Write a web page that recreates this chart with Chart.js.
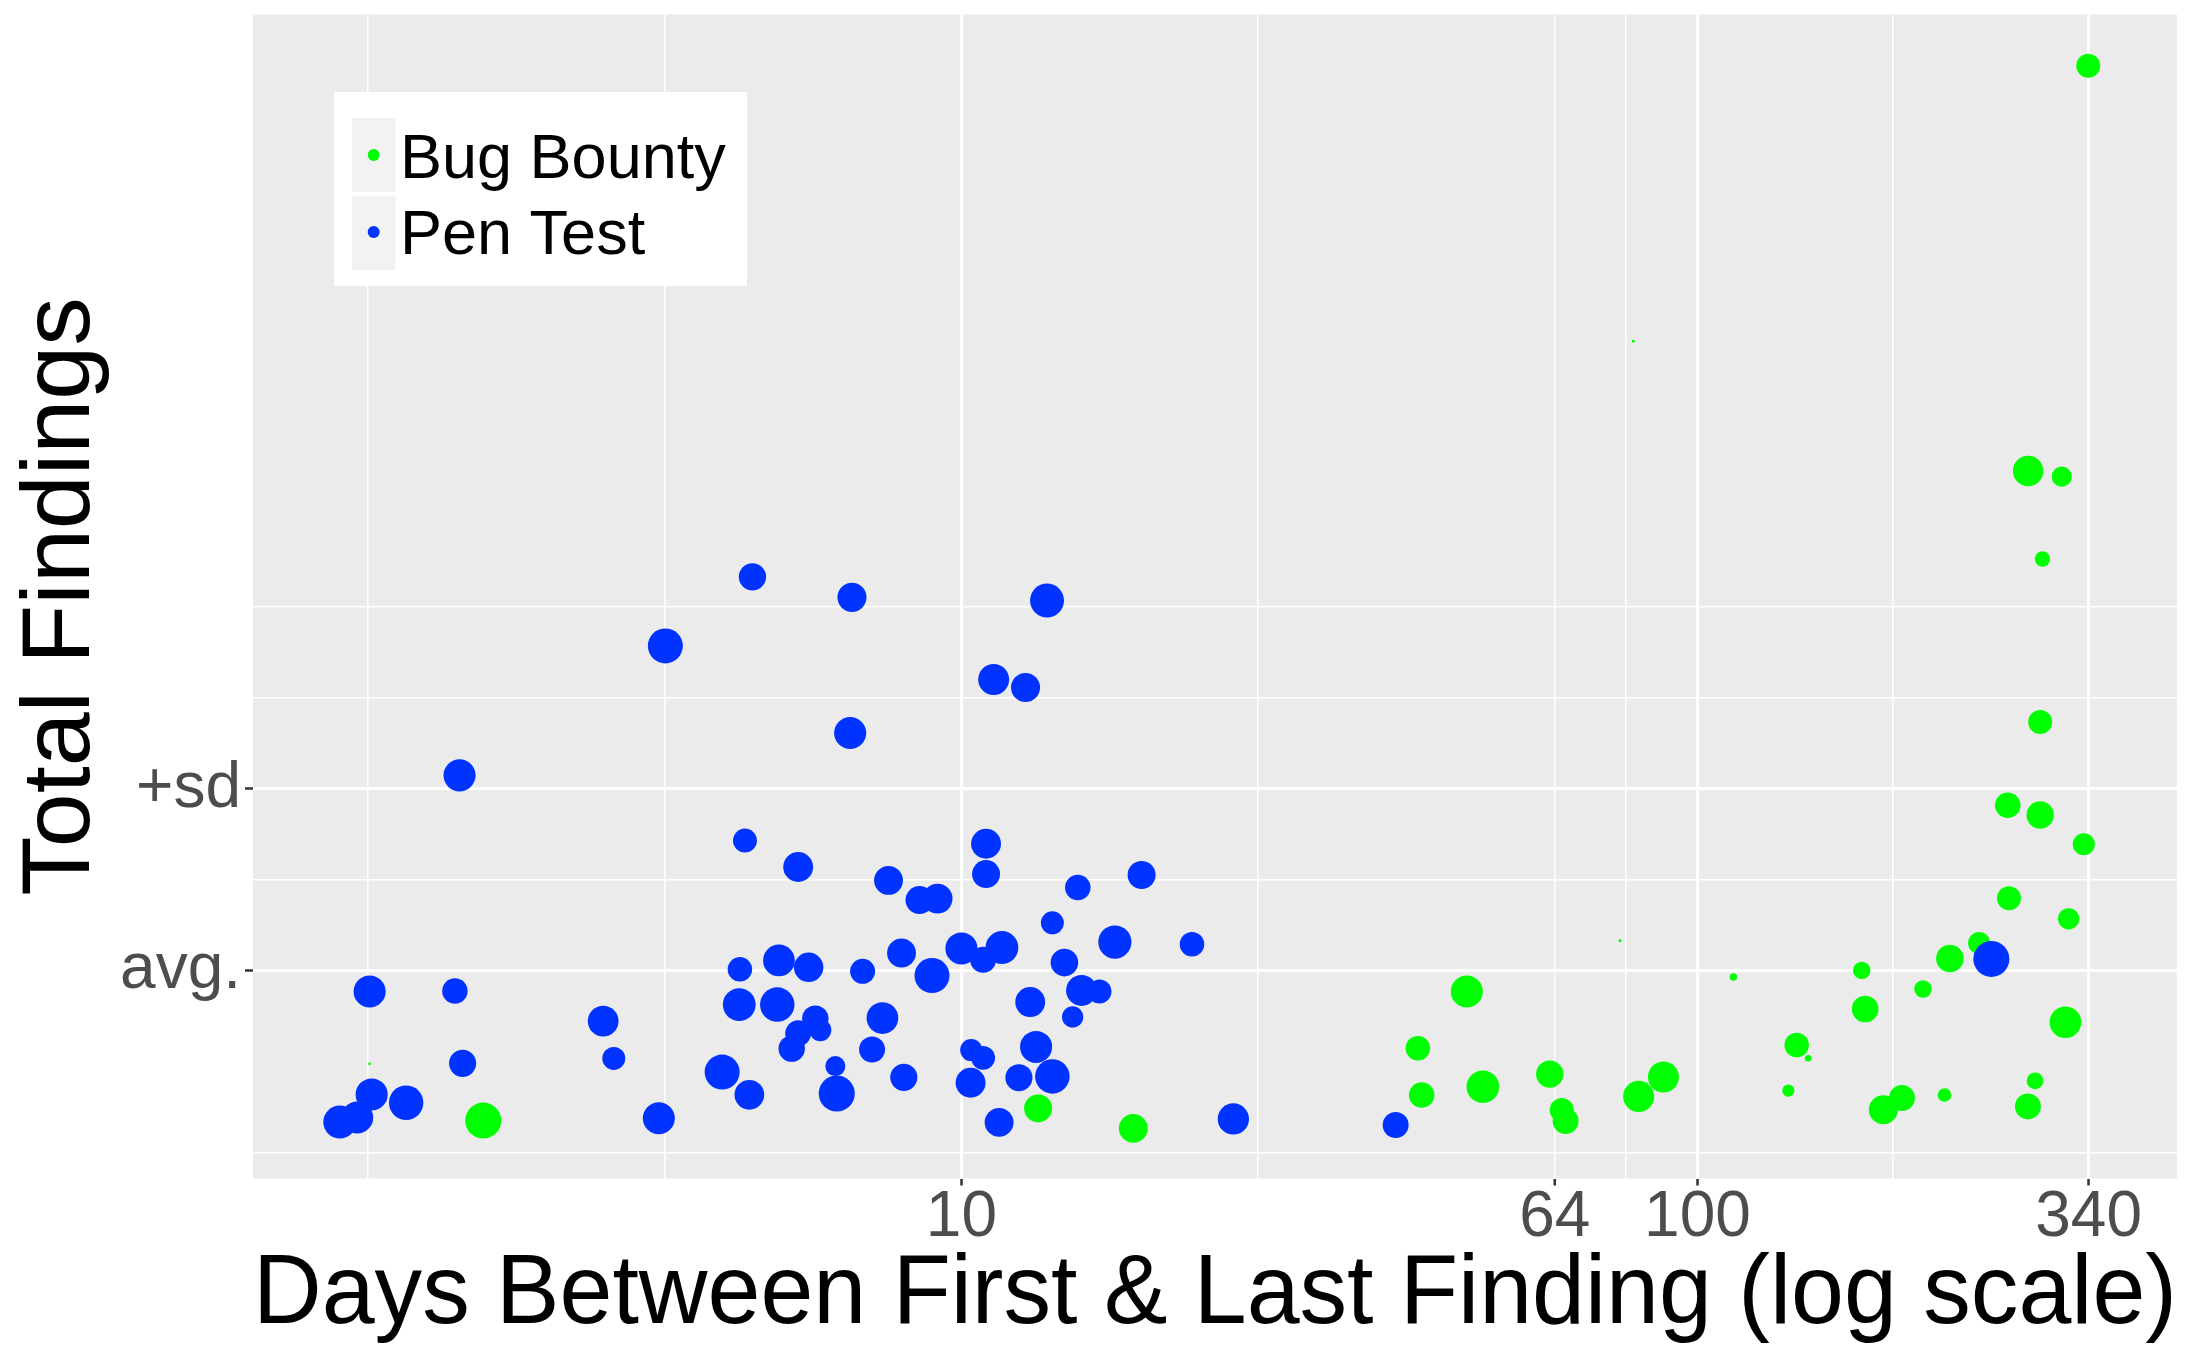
<!DOCTYPE html>
<html>
<head>
<meta charset="utf-8">
<title>Total Findings vs Days Between First &amp; Last Finding</title>
<script src="https://cdn.jsdelivr.net/npm/chart.js@4.4.1/dist/chart.umd.min.js"></script>
<style>
  html, body { margin: 0; padding: 0; background: #ffffff; overflow: hidden; }
  #wrap { width: 2188px; height: 1345px; }
  canvas { display: block; }
</style>
</head>
<body>
<div id="wrap"><canvas id="findingsChart" width="2188" height="1345"></canvas></div>
<script>
// ---- data ----
const seriesNames = ['Bug Bounty', 'Pen Test'];

// days between first & last finding
const bugBountyDays = [2.24, 12.71, 17.12, 48.6, 41.7, 42.2, 51.1, 63.0, 65.4, 66.2,
    78.5, 83.2, 89.9, 111.9, 167.2, 169.0, 136.4, 141.4, 132.9, 178.9,
    189.6, 81.8, 281.4, 312.6, 294.3, 292.2, 264.0, 292.2, 334.9, 265.0,
    319.4, 241.4, 220.3, 202.5, 316.2, 216.6, 287.5, 281.2, 339.6, 1.57];
// total findings, in standard deviations from the average
const bugBountyFindings = [-0.824, -0.757, -0.867, -0.114, -0.426, -0.683, -0.638, -0.568, -0.766, -0.826,
    0.165, -0.691, -0.584, -0.034, 0.002, -0.210, -0.408, -0.481, -0.659, -0.764,
    -0.700, 3.463, 2.749, 2.718, 2.265, 1.369, 0.911, 0.857, 0.696, 0.399,
    0.286, 0.153, 0.068, -0.100, -0.283, -0.683, -0.605, -0.746, 4.978, -0.512];
// size variable (relative)
const bugBountyWeight = [10.6, 6.4, 6.8, 8.4, 4.9, 5.3, 8.7, 6.1, 4.7, 5.5,
    0.07, 7.9, 7.8, 0.45, 2.5, 5.8, 4.9, 0.36, 1.2, 6.9,
    5.5, 0.07, 7.6, 3.3, 1.9, 4.7, 5.3, 6.1, 4.0, 4.7,
    3.7, 4.0, 6.2, 2.5, 8.2, 1.5, 2.3, 5.5, 4.7, 0.07];

const penTestDays = [5.20, 7.10, 13.07, 3.96, 11.06, 12.22, 7.06, 2.08, 5.08, 6.00,
    10.80, 10.80, 7.96, 8.77, 9.28, 14.39, 17.57, 13.29, 20.57, 16.16,
    10.00, 10.70, 11.35, 13.80, 8.29, 9.12, 7.34, 6.20, 5.65, 5.00,
    1.57, 2.05, 4.99, 5.62, 6.33, 6.43, 6.00, 5.88, 7.81, 7.56,
    12.40, 14.56, 15.40, 14.16, 12.63, 10.31, 10.70, 3.26, 3.37, 2.10,
    4.73, 5.15, 6.74, 6.77, 8.35, 10.29, 11.97, 13.29, 11.25, 23.41,
    3.88, 1.58, 1.76, 1.43, 1.51, 38.9, 250.8];
const penTestFindings = [2.167, 2.054, 2.037, 1.787, 1.602, 1.558, 1.308, 1.075, 0.716, 0.571,
    0.699, 0.532, 0.497, 0.389, 0.397, 0.458, 0.527, 0.264, 0.146, 0.158,
    0.123, 0.061, 0.128, 0.045, 0.098, -0.026, -0.003, 0.019, 0.057, 0.008,
    -0.114, -0.111, -0.186, -0.186, -0.263, -0.326, -0.344, -0.428, -0.260, -0.433,
    -0.172, -0.108, -0.114, -0.254, -0.419, -0.436, -0.479, -0.277, -0.482, -0.509,
    -0.557, -0.682, -0.524, -0.675, -0.586, -0.616, -0.588, -0.581, -0.834, -0.815,
    -0.811, -0.680, -0.726, -0.832, -0.807, -0.848, 0.065];
const penTestWeight = [6.1, 6.9, 9.4, 10, 7.8, 6.9, 8.4, 8.4, 4.7, 7.3,
    7.3, 6.4, 6.8, 6.4, 7.3, 5.3, 6.4, 4.3, 4.9, 9.0,
    8.4, 5.5, 8.8, 6.2, 6.8, 10, 5.1, 7.1, 8.2, 4.9,
    8.4, 5.3, 8.8, 9.7, 5.7, 4.0, 5.5, 5.7, 8.2, 5.5,
    7.3, 7.8, 4.7, 3.7, 8.4, 4.0, 4.7, 7.7, 4.3, 6.0,
    10, 7.2, 3.3, 10.6, 6.0, 7.3, 6.0, 9.7, 6.8, 8.0,
    8.4, 8.4, 9.7, 8.9, 8.4, 5.5, 10.6];

const xTickLabels = [10, 64, 100, 340];
const xThickLines = [10, 100, 340];
const xGridValues = [1.5625, 3.953, 10, 25.3, 64, 80, 100, 184.4, 340];
const yTickValues = [0, 1];
const yTickLabels = ['avg.', '+sd'];
const yGridValues = [-1, 0, 0.5, 1, 1.5, 2];

// ---- chart ----
const fontFamily = "'Liberation Sans', Arial, Helvetica, sans-serif";
Chart.defaults.font.family = fontFamily;

function toPoints(xs, ys) {
    return xs.map((x, i) => ({ x: x, y: ys[i] }));
}

function radiusFor(ctx) {
    const w = ctx.dataset.weights[ctx.dataIndex];
    return 17.5 * Math.sqrt(w / 10);
}

// grey panel behind the grid, and the legend box inside the panel
const panelAndLegend = {
    id: 'panelAndLegend',
    beforeDraw(chart) {
        const { ctx, chartArea: a } = chart;
        ctx.save();
        ctx.fillStyle = '#EBEBEB';
        ctx.fillRect(a.left, a.top, a.right - a.left, a.bottom - a.top);
        ctx.restore();
    },
    afterDraw(chart) {
        const ctx = chart.ctx;
        ctx.save();
        ctx.fillStyle = '#FFFFFF';
        ctx.fillRect(334, 92, 413, 194);
        chart.data.datasets.forEach((ds, i) => {
            const top = 118 + i * 78;
            ctx.fillStyle = '#F2F2F2';
            ctx.fillRect(352, top, 43.5, 74);
            ctx.fillStyle = ds.backgroundColor;
            ctx.beginPath();
            ctx.arc(373.7, top + 37 - i, 6, 0, Math.PI * 2);
            ctx.fill();
            ctx.fillStyle = '#000000';
            ctx.font = '63px ' + fontFamily;
            ctx.textAlign = 'left';
            ctx.textBaseline = 'alphabetic';
            ctx.fillText(ds.label, 400, top + 60 - i * 2);
        });
        ctx.restore();
    }
};

new Chart(document.getElementById('findingsChart'), {
    type: 'scatter',
    data: {
        datasets: [{
            label: seriesNames[0],
            data: toPoints(bugBountyDays, bugBountyFindings),
            weights: bugBountyWeight,
            backgroundColor: '#00FF00',
            order: 1
        }, {
            label: seriesNames[1],
            data: toPoints(penTestDays, penTestFindings),
            weights: penTestWeight,
            backgroundColor: '#0033FF',
            order: 0
        }]
    },
    options: {
        responsive: false,
        devicePixelRatio: 1,
        animation: false,
        events: [],
        layout: { autoPadding: false, padding: { top: 14.5, right: 11, bottom: 0, left: 0 } },
        elements: {
            point: { radius: radiusFor, hoverRadius: radiusFor, borderWidth: 0 }
        },
        plugins: {
            legend: { display: false },
            tooltip: { enabled: false }
        },
        scales: {
            x: {
                type: 'logarithmic',
                min: 1.09,
                max: 448.3,
                afterBuildTicks: s => { s.ticks = xGridValues.map(v => ({ value: v })); },
                afterFit: s => {
                    s.height = 166.5;
                    s.paddingLeft = 0; s.paddingRight = 0;
                },
                ticks: {
                    autoSkip: false,
                    maxRotation: 0,
                    minRotation: 0,
                    padding: 1,
                    color: '#4D4D4D',
                    font: { size: 64, lineHeight: 1 },
                    callback: v => xTickLabels.includes(v) ? String(v) : ''
                },
                grid: {
                    color: '#FFFFFF',
                    lineWidth: c => xThickLines.includes(c.tick.value) ? 3 : 1.5,
                    drawTicks: true,
                    tickLength: 7,
                    tickWidth: 2.5,
                    tickColor: c => xTickLabels.includes(c.tick.value) ? '#333333' : 'rgba(0,0,0,0)'
                },
                border: { display: false },
                title: {
                    display: true,
                    text: 'Days Between First & Last Finding (log scale)',
                    color: '#000000',
                    font: { size: 98, lineHeight: 1 },
                    padding: { top: 0, bottom: 0 }
                }
            },
            y: {
                type: 'linear',
                min: -1.1425,
                max: 5.26,
                afterBuildTicks: s => { s.ticks = yGridValues.map(v => ({ value: v })); },
                afterFit: s => {
                    s.width = 253;
                    s.paddingTop = 0; s.paddingBottom = 0;
                },
                ticks: {
                    autoSkip: false,
                    padding: 4,
                    color: '#4D4D4D',
                    font: { size: 64, lineHeight: 1 },
                    callback: v => {
                        const i = yTickValues.indexOf(v);
                        return i >= 0 ? yTickLabels[i] : '';
                    }
                },
                grid: {
                    color: '#FFFFFF',
                    lineWidth: c => yTickValues.includes(c.tick.value) ? 3 : 1.5,
                    drawTicks: true,
                    tickLength: 8,
                    tickWidth: 2.5,
                    tickColor: c => yTickValues.includes(c.tick.value) ? '#333333' : 'rgba(0,0,0,0)'
                },
                border: { display: false },
                title: {
                    display: true,
                    text: 'Total Findings',
                    color: '#000000',
                    font: { size: 97, lineHeight: 1 },
                    padding: { top: 14, bottom: 0 }
                }
            }
        }
    },
    plugins: [panelAndLegend]
});
</script>
</body>
</html>
